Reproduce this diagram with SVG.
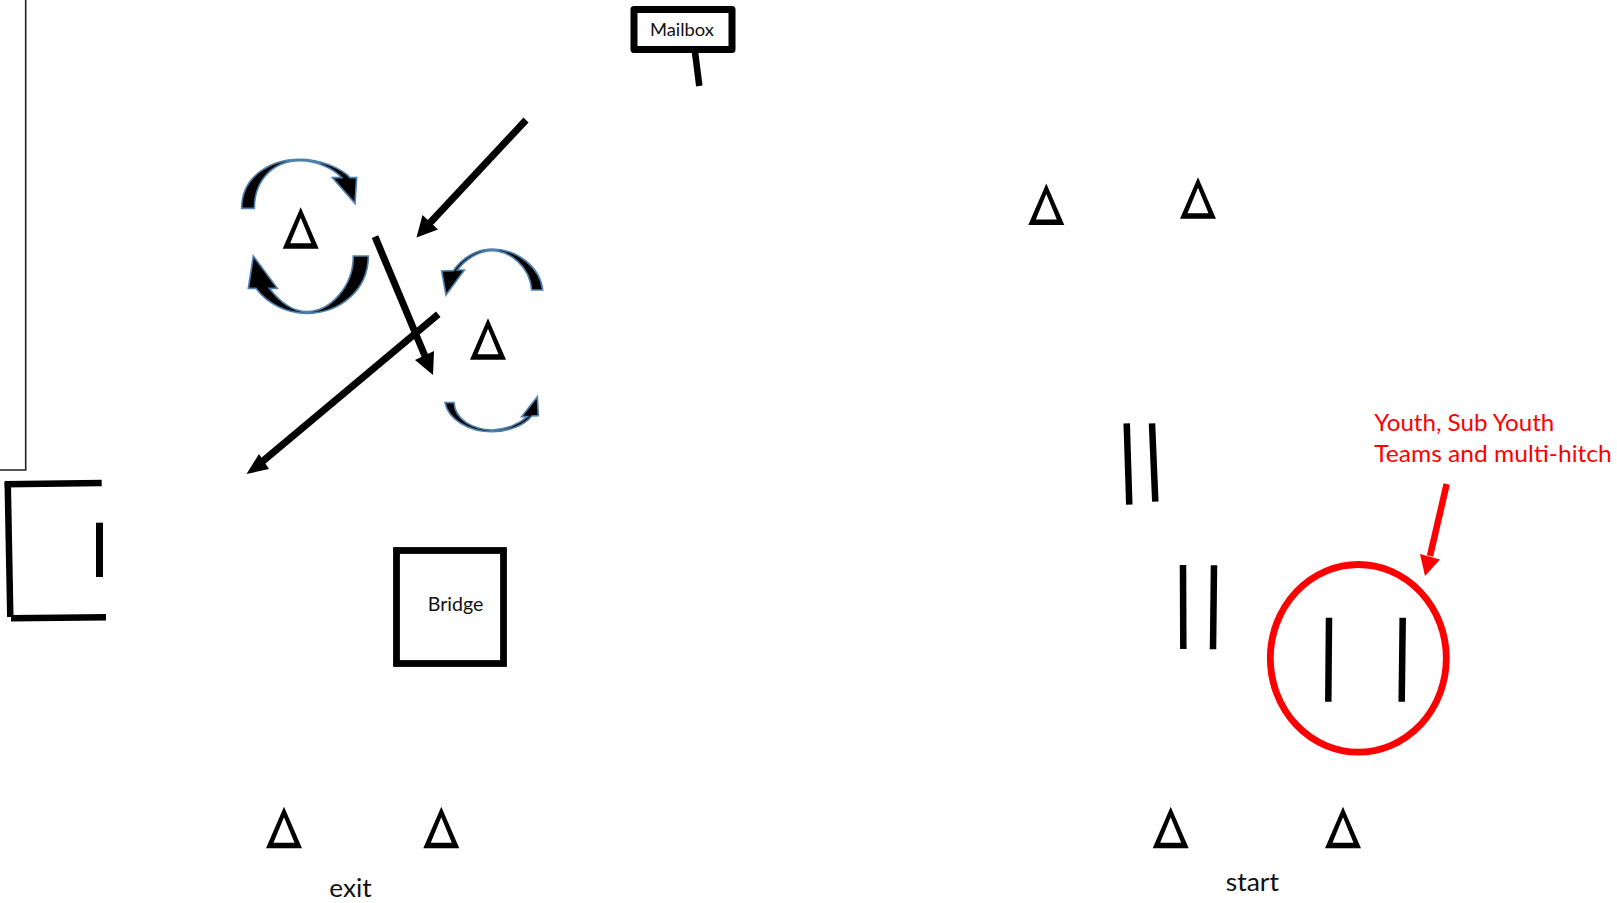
<svg xmlns="http://www.w3.org/2000/svg" width="1617" height="903" viewBox="0 0 1617 903">
<style>
.bar{stroke:#000;stroke-width:6.5;fill:none}
.arrow{stroke:#000;stroke-width:7;fill:none}
.box{stroke:#000;stroke-width:7;fill:#fff;stroke-linejoin:round}
.t{font-family:"Lato","Open Sans",sans-serif;fill:#111}
.red{font-family:"Lato","Open Sans",sans-serif;fill:#f00;font-size:24px}
.curve{fill:#000;stroke:#4f81ac;stroke-width:5}
</style>
<defs>
<path id="tri" fill="#000" fill-rule="evenodd" d="M18 0L36 41.5H0ZM18 10.5L7.5 36H28.5Z"/>
</defs>
<rect width="1617" height="903" fill="#fff"/>
<g id="wall"><path d="M0 470H25.7V0" fill="none" stroke="#222" stroke-width="1.6"/></g>
<g id="mailbox">
<rect class="box" x="634" y="9.5" width="98" height="40"/>
<line class="bar" x1="695" y1="52" x2="699.3" y2="86"/>
<text class="t" x="650" y="36" font-size="18" textLength="64" lengthAdjust="spacingAndGlyphs">Mailbox</text>
</g>
<g id="bridge">
<rect x="396.5" y="550.5" width="107" height="113" fill="#fff" stroke="#000" stroke-width="6.8"/>
<text class="t" x="427.7" y="610.7" font-size="18.5" textLength="55.6" lengthAdjust="spacingAndGlyphs">Bridge</text>
</g>
<g id="bracket">
<line class="bar" x1="4.7" y1="484.3" x2="101.7" y2="483"/>
<line class="bar" x1="7.7" y1="482" x2="10.3" y2="617"/>
<line class="bar" x1="11" y1="618.3" x2="106" y2="617.3"/>
<line class="bar" x1="99.5" y1="522.7" x2="99.5" y2="577" style="stroke-width:7"/>
</g>
<g id="triangle-1"><use href="#tri" x="282.7" y="207.3"/></g>
<g id="triangle-2"><use href="#tri" x="470" y="318.3"/></g>
<g id="triangle-3"><use href="#tri" x="1028.3" y="183.5"/></g>
<g id="triangle-4"><use href="#tri" x="1180" y="177.3"/></g>
<g id="triangle-5"><use href="#tri" x="266" y="806.7"/></g>
<g id="triangle-6"><use href="#tri" x="423.3" y="806.7"/></g>
<g id="triangle-7"><use href="#tri" x="1152.7" y="806.7"/></g>
<g id="triangle-8"><use href="#tri" x="1325" y="806.7"/></g>
<g id="bars">
<line class="bar" x1="1126.7" y1="423.3" x2="1129.3" y2="504.7"/>
<line class="bar" x1="1152" y1="423.3" x2="1155.3" y2="501.7"/>
<line class="bar" x1="1183" y1="565" x2="1183.3" y2="649"/>
<line class="bar" x1="1214" y1="565.3" x2="1213" y2="649.3"/>
<line class="bar" x1="1329" y1="617.7" x2="1328.3" y2="701.7"/>
<line class="bar" x1="1402.7" y1="617.7" x2="1401.7" y2="701.7"/>
</g>
<g id="red-circle"><ellipse cx="1358.3" cy="658.3" rx="88" ry="93.8" fill="none" stroke="#f00" stroke-width="6.8"/></g>
<g id="labels">
<text class="red" x="1374.3" y="431" textLength="180" lengthAdjust="spacingAndGlyphs">Youth, Sub Youth</text>
<text class="red" x="1374.3" y="462" textLength="237.4" lengthAdjust="spacingAndGlyphs">Teams and multi-hitch</text>
<text class="t" x="329.3" y="896.7" font-size="25" textLength="42.4" lengthAdjust="spacingAndGlyphs">exit</text>
<text class="t" x="1225.7" y="891" font-size="25" textLength="53.3" lengthAdjust="spacingAndGlyphs">start</text>
</g>
<g id="connectors">
<g>
<line class="arrow" x1="526" y1="120" x2="428" y2="225"/>
<polygon points="416.5,237.5 422.5,215 438,229.5"/>
</g>
<g>
<line class="arrow" x1="375" y1="236.7" x2="425" y2="356"/>
<polygon points="433,375 415,360 434,351"/>
</g>
<g>
<line class="arrow" x1="438.3" y1="314.3" x2="263" y2="461"/>
<polygon points="246.5,474 259,454 269,469"/>
</g>
<line x1="1446.7" y1="484" x2="1430" y2="556" stroke="#f00" stroke-width="6.5"/>
<polygon fill="#f00" points="1425,576 1420,554 1440,559.5"/>
</g>
<g id="curved-arrows" transform="translate(220 130) scale(.33333)">
<path class="curve" d="M65 235C65 140 150 88 240 88C300 88 365 115 390 143L410 143L405 220L337 143L365 143C340 115 290 92 240 92C160 92 103 150 103 235Z"/>
<path class="curve" d="M445 378C445 480 360 550 260 550C200 550 140 520 108 475L85 475L100 378L172 475L148 475C175 510 215 545 260 545C330 545 400 470 400 378Z"/>
<path class="curve" d="M968 480C960 410 890 357 815 357C770 357 725 385 700 422L665 423L678 495L733 420L712 420C735 390 775 362 815 362C870 362 930 410 935 480Z"/>
<path class="curve" d="M675 818C685 870 750 905 815 905C865 905 915 885 935 858L955 857L952 800L905 860L922 860C900 880 860 900 815 900C760 898 705 870 702 818Z"/>
</g>
</svg>
